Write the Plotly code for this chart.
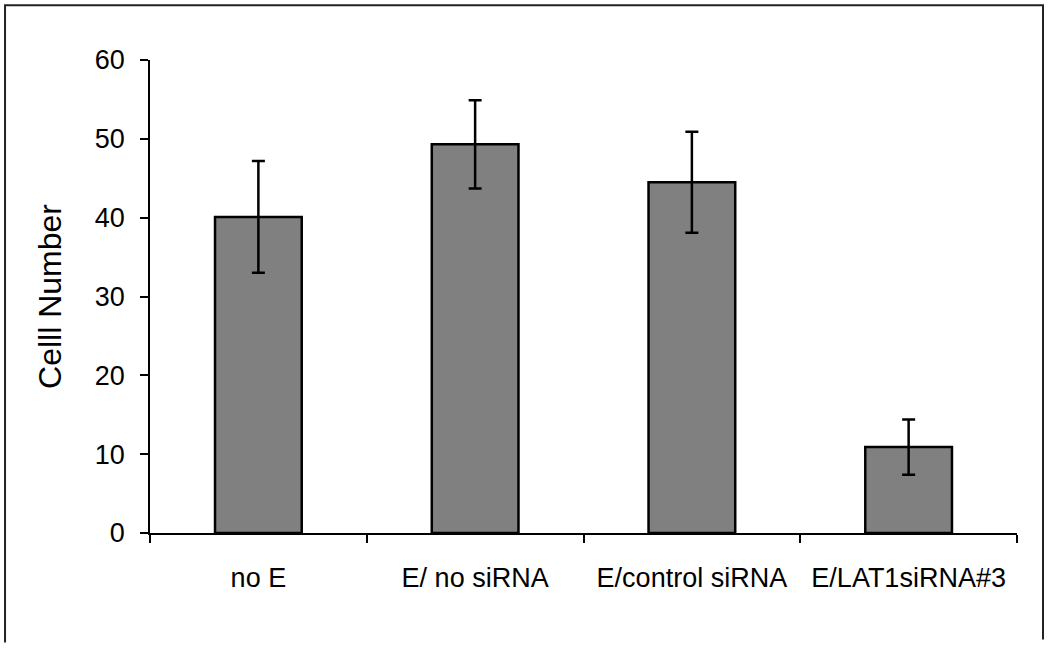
import plotly.graph_objects as go

categories = ["no E", "E/ no siRNA", "E/control siRNA", "E/LAT1siRNA#3"]
cell_number = [40.1, 49.3, 44.5, 10.9]
error = [7.1, 5.6, 6.4, 3.5]

FONT = "Liberation Sans, Arial, sans-serif"

fig = go.Figure()
fig.add_trace(go.Bar(
    x=categories,
    y=cell_number,
    width=0.4,
    marker=dict(color="#808080", line=dict(color="black", width=2.5)),
    error_y=dict(type="data", array=error, visible=True,
                 color="black", thickness=2.5, width=6.5),
))

fig.update_layout(
    width=1050,
    height=651,
    margin=dict(l=150, r=33, t=60, b=118),
    plot_bgcolor="white",
    paper_bgcolor="white",
    font=dict(family=FONT, size=27, color="black"),
    showlegend=False,
    # frame around the chart (bottom edge is cut off in the original)
    shapes=[dict(
        type="path", xref="paper", yref="paper",
        path="M -0.1672,-0.2317 L -0.1672,1.116 L 1.030,1.116 L 1.030,-0.225",
        line=dict(color="#222222", width=2),
    )],
)

fig.update_xaxes(
    showline=True, linecolor="black", linewidth=1.5,
    ticks="outside", ticklen=8, tickcolor="black", tickwidth=1.5,
    tickson="boundaries", ticklabelstandoff=20,
    showgrid=False, zeroline=False,
)
fig.update_yaxes(
    range=[0, 60], dtick=10,
    showline=True, linecolor="black", linewidth=1.5,
    ticks="outside", ticklen=8, tickcolor="black", tickwidth=1.5,
    ticklabelstandoff=10,
    showgrid=False, zeroline=False,
    title=dict(text="Celll Number", standoff=24),
)

# drop the page's default body margin so the figure sits at the window corner
fig.write_html("out.html", config={"displayModeBar": False},
               post_script="document.body.style.margin='0';")
